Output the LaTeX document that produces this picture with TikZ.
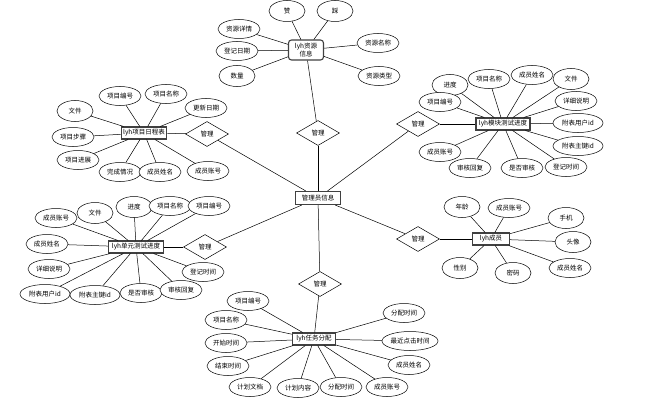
\documentclass[tikz,border=0pt]{standalone}
\usepackage{fontspec}
\setmainfont{Noto Sans CJK SC}
\usetikzlibrary{shapes.geometric}
\begin{document}
\begin{tikzpicture}[x=1pt,y=-1pt,
 every node/.style={font=\fontsize{6.5}{7.5}\selectfont, inner sep=0pt},
 attr/.style={ellipse, draw, fill=white, line width=0.5pt, minimum width=42pt, minimum height=19pt},
 attrs/.style={attr, minimum width=36pt, minimum height=21pt},
 attrw/.style={attr, minimum width=50pt},
 ent/.style={rectangle, draw=black!75, line width=1.1pt, fill=white, minimum height=12pt, inner xsep=2pt},
 rel/.style={diamond, draw, fill=white, line width=0.5pt, minimum width=43pt, minimum height=25pt},
 conn/.style={line width=0.5pt}]
\useasboundingbox (0,0) rectangle (656,404);

% central
\node[ent, minimum width=45pt, minimum height=13pt] (adm) at (318,198) {管理员信息};

% relations
\node[rel] (r1) at (318,133) {管理};
\node[rel] (r2) at (320,284) {管理};
\node[rel] (r3) at (207,134) {管理};
\node[rel] (r4) at (418,124) {管理};
\node[rel] (r5) at (205,247) {管理};
\node[rel] (r6) at (418,239) {管理};

% entities
\node[ent, rounded corners=3pt, align=center, minimum width=35pt, minimum height=20pt] (res) at (306,50) {lyh资源\\信息};
\node[ent, minimum width=45pt] (plan) at (144,133) {lyh项目日程表};
\node[ent, minimum width=54pt] (mod) at (503,124) {lyh模块测试进度};
\node[ent, minimum width=55pt] (unit) at (136,247) {lyh单元测试进度};
\node[ent, minimum width=37pt] (mem) at (491,239) {lyh成员};
\node[ent, minimum width=43pt] (task) at (314,339) {lyh任务分配};

% relation links
\foreach \a/\b in {adm/r1,adm/r2,adm/r3,adm/r4,adm/r5,adm/r6,r1/res,r2/task,r3/plan,r4/mod,r5/unit,r6/mem}
  \draw[conn] (\a) -- (\b);

% resource attributes
\node[attrs] (a1) at (287,11) {赞};
\node[attrs] (a2) at (335,11) {踩};
\node[attr] (a3) at (239,29) {资源详情};
\node[attr] (a4) at (237,51) {登记日期};
\node[attrs] (a5) at (237,76) {数量};
\node[attr] (a6) at (378,43) {资源名称};
\node[attr] (a7) at (379,76) {资源类型};
\foreach \n in {a1,a2,a3,a4,a5,a6,a7} \draw[conn] (res) -- (\n);

% plan attributes
\node[attr] (b1) at (120,96) {项目编号};
\node[attr] (b2) at (166,94) {项目名称};
\node[attr] (b3) at (206,108) {更新日期};
\node[attrs] (b4) at (75,111) {文件};
\node[attr] (b5) at (73,137) {项目步骤};
\node[attr] (b6) at (78,160) {项目进展};
\node[attr] (b7) at (120,172) {完成情况};
\node[attr] (b8) at (160,172) {成员姓名};
\node[attr] (b9) at (208,171) {成员账号};
\foreach \n in {b1,b2,b3,b4,b5,b6,b7,b8,b9} \draw[conn] (plan) -- (\n);

% module test attributes
\node[attrs] (c1) at (450,85) {进度};
\node[attr] (c2) at (489,79) {项目名称};
\node[attr] (c3) at (532,75) {成员姓名};
\node[attrs] (c4) at (571,79) {文件};
\node[attr] (c5) at (440,102) {项目编号};
\node[attr] (c6) at (576,101) {详细说明};
\node[attrw] (c7) at (578,123) {附表用户id};
\node[attrw] (c8) at (578,146) {附表主键id};
\node[attr] (c9) at (440,152) {成员账号};
\node[attr] (c10) at (470,168) {审核回复};
\node[attr] (c11) at (522,168) {是否审核};
\node[attr] (c12) at (566,167) {登记时间};
\foreach \n in {c1,c2,c3,c4,c5,c6,c7,c8,c9,c10,c11,c12} \draw[conn] (mod) -- (\n);

% unit test attributes
\node[attr] (d1) at (56,218) {成员账号};
\node[attrs] (d2) at (95,213) {文件};
\node[attrs] (d3) at (134,207) {进度};
\node[attr] (d4) at (170,206) {项目名称};
\node[attr] (d5) at (209,206) {项目编号};
\node[attr] (d6) at (47,244) {成员姓名};
\node[attr] (d7) at (49,269) {详细说明};
\node[attrw] (d8) at (45,294) {附表用户id};
\node[attrw] (d9) at (95,295) {附表主键id};
\node[attr] (d10) at (141,293) {是否审核};
\node[attr] (d11) at (181,290) {审核回复};
\node[attr] (d12) at (203,272) {登记时间};
\foreach \n in {d1,d2,d3,d4,d5,d6,d7,d8,d9,d10,d11,d12} \draw[conn] (unit) -- (\n);

% member attributes
\node[attrs] (e1) at (462,207) {年龄};
\node[attr] (e2) at (509,208) {成员账号};
\node[attrs] (e3) at (566,218) {手机};
\node[attrs] (e4) at (573,242) {头像};
\node[attr] (e5) at (570,268) {成员姓名};
\node[attrs] (e6) at (460,268) {性别};
\node[attrs] (e7) at (513,273) {密码};
\foreach \n in {e1,e2,e3,e4,e5,e6,e7} \draw[conn] (mem) -- (\n);

% task attributes
\node[attr] (f1) at (248,301) {项目编号};
\node[attr] (f2) at (226,320) {项目名称};
\node[attr] (f3) at (226,343) {开始时间};
\node[attr] (f4) at (228,366) {结束时间};
\node[attr] (f5) at (250,387) {计划文档};
\node[attr] (f6) at (298,388) {计划内容};
\node[attr] (f7) at (341,387) {分配时间};
\node[attr] (f8) at (387,387) {成员账号};
\node[attr] (f9) at (404,313) {分配时间};
\node[attr, minimum width=56pt] (f10) at (410,341) {最近点击时间};
\node[attr] (f11) at (409,365) {成员姓名};
\foreach \n in {f1,f2,f3,f4,f5,f6,f7,f8,f9,f10,f11} \draw[conn] (task) -- (\n);
\end{tikzpicture}
\end{document}
